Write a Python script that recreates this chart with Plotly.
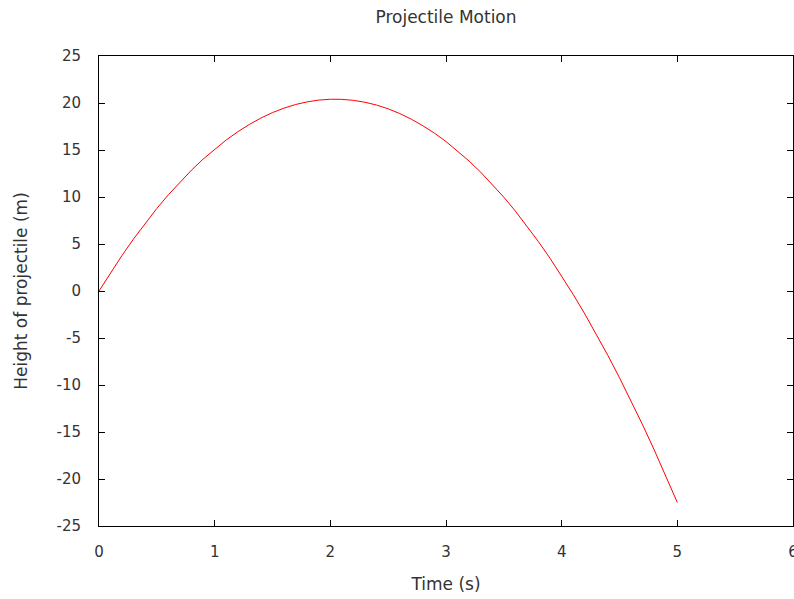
import plotly.graph_objects as go

time_s = [0.0, 0.1, 0.2, 0.3, 0.4, 0.5, 0.6, 0.7, 0.8, 0.9,
          1.0, 1.1, 1.2, 1.3, 1.4, 1.5, 1.6, 1.7, 1.8, 1.9,
          2.0, 2.1, 2.2, 2.3, 2.4, 2.5, 2.6, 2.7, 2.8, 2.9,
          3.0, 3.1, 3.2, 3.3, 3.4, 3.5, 3.6, 3.7, 3.8, 3.9,
          4.0, 4.1, 4.2, 4.3, 4.4, 4.5, 4.6, 4.7, 4.8, 4.9, 5.0]
height_m = [0.0, 1.95, 3.8, 5.56, 7.22, 8.78, 10.24, 11.6, 12.86, 14.03,
            15.1, 16.07, 16.94, 17.72, 18.4, 18.98, 19.46, 19.84, 20.12, 20.31,
            20.4, 20.39, 20.28, 20.08, 19.78, 19.38, 18.88, 18.28, 17.58, 16.79,
            15.9, 14.91, 13.82, 12.64, 11.36, 9.98, 8.5, 6.92, 5.24, 3.47,
            1.6, -0.37, -2.44, -4.6, -6.86, -9.23, -11.68, -14.24, -16.9, -19.65, -22.5]

x_ticks = [0, 1, 2, 3, 4, 5, 6]
x_tick_labels = ["0", "1", "2", "3", "4", "5", "6"]
y_ticks = [-25, -20, -15, -10, -5, 0, 5, 10, 15, 20, 25]
y_tick_labels = ["-25", "-20", "-15", "-10", "-5", "0", "5", "10", "15", "20", "25"]

fig = go.Figure()
fig.add_trace(go.Scatter(x=time_s, y=height_m, mode="lines",
                         line=dict(color="#ff0000", width=1), showlegend=False))

family = "DejaVu Sans, Liberation Sans, Arial, sans-serif"
font = dict(family=family, size=15, color="#333333")
title_font = dict(family=family, size=17, color="#333333")
axis_common = dict(showgrid=False, zeroline=False, showline=True, linecolor="black",
                   linewidth=1, mirror="ticks", ticks="inside", ticklen=6,
                   tickcolor="black", tickwidth=1, tickfont=font, automargin=False,
                   ticklabeloverflow="allow")

fig.update_layout(
    width=794, height=599,
    margin=dict(l=99, r=1, t=56, b=73),
    paper_bgcolor="white", plot_bgcolor="white",
    font=font,
    title=dict(text="Projectile Motion", xref="paper", x=0.5, xanchor="center",
               yref="container", y=1 - 17 / 599, yanchor="middle", font=title_font),
    xaxis=dict(range=[0, 6], tickvals=x_ticks, ticktext=x_tick_labels, ticklabelstandoff=12,
               title=dict(text="Time (s)", font=title_font, standoff=18), **axis_common),
    yaxis=dict(range=[-25, 25], tickvals=y_ticks, ticktext=y_tick_labels, ticklabelstandoff=14,
               title=dict(text="Height of projectile (m)", font=title_font, standoff=24), **axis_common),
)

fig.write_html("out.html")
